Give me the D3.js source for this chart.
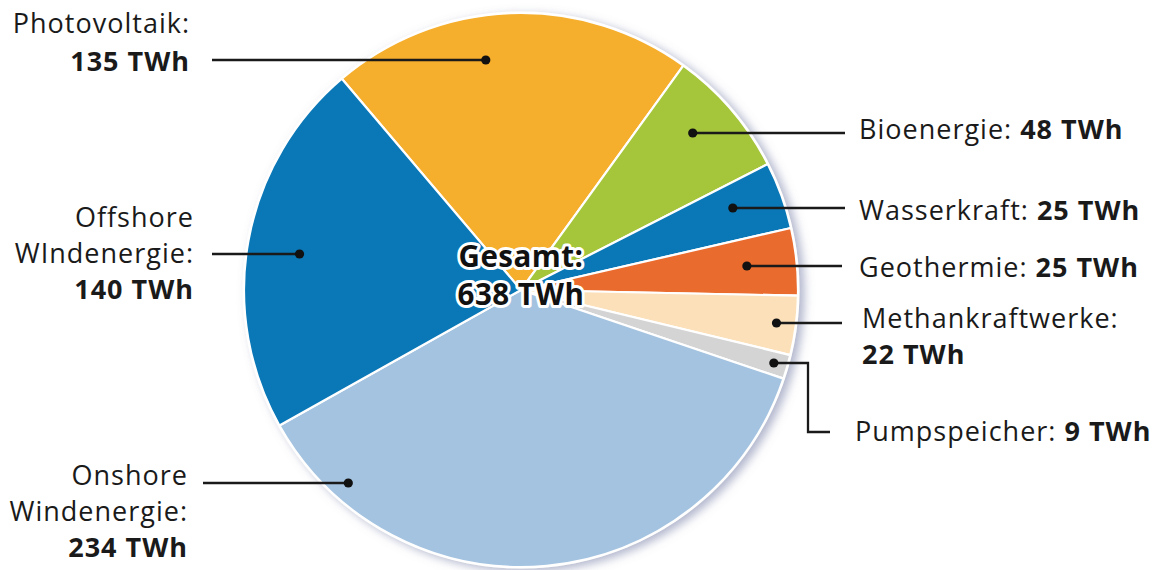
<!DOCTYPE html>
<html>
<head>
<meta charset="utf-8">
<script src="https://cdn.jsdelivr.net/npm/d3@7"></script>
<style>
  html, body { margin: 0; padding: 0; background: #fff; }
  svg { display: block; }
  text { font-family: "Open Sans", "DejaVu Sans", sans-serif; fill: #1a1a1a; }
</style>
</head>
<body>
<svg id="chart" width="1157" height="570"></svg>
<script>
// Stromerzeugung nach Quelle (TWh)
const categories = ["Photovoltaik", "Bioenergie", "Wasserkraft", "Geothermie",
                    "Methankraftwerke", "Pumpspeicher", "Onshore Windenergie", "Offshore Windenergie"];
const values = [135, 48, 25, 25, 22, 9, 234, 140];
const colors = ["#f6ae2d", "#a5c53b", "#0a77b7", "#ea6b2e", "#fbe0b9", "#d4d4d4", "#a4c3e0", "#0a77b7"];
// label lines: name part(s); the bold value follows
const labelLines = [
  ["Photovoltaik:"],
  ["Bioenergie:"],
  ["Wasserkraft:"],
  ["Geothermie:"],
  ["Methankraftwerke:"],
  ["Pumpspeicher:"],
  ["Onshore", "Windenergie:"],
  ["Offshore", "WIndenergie:"]
];
const unit = "TWh";
const totalLabel = "Gesamt:";

const svg = d3.select("#chart");
const cx = 521, cy = 290, R = 277;
const startAngle = -40.3 * Math.PI / 180;

const defs = svg.append("defs");
const shadow = defs.append("filter").attr("id", "shadow")
  .attr("x", "-10%").attr("y", "-10%").attr("width", "120%").attr("height", "120%");
shadow.append("feDropShadow").attr("dx", 5).attr("dy", 3).attr("stdDeviation", 5)
  .attr("flood-color", "#6f7aa3").attr("flood-opacity", 0.55);

const data = categories.map((c, i) => ({ name: c, value: values[i], color: colors[i], lines: labelLines[i] }));

const pie = d3.pie().value(d => d.value).sort(null)
  .startAngle(startAngle).endAngle(startAngle + 2 * Math.PI);
const arcs = pie(data);
const arc = d3.arc().innerRadius(0).outerRadius(R);

const g = svg.append("g").attr("transform", `translate(${cx},${cy})`);

// backdrop disc carrying the shadow and the white rim
g.append("circle").attr("r", R + 1.5).attr("fill", "#fff").attr("filter", "url(#shadow)");

g.selectAll("path.slice").data(arcs).join("path")
  .attr("class", "slice")
  .attr("d", arc)
  .attr("fill", d => d.data.color)
  .attr("stroke", "#fff")
  .attr("stroke-width", 2.2)
  .attr("stroke-linejoin", "round");

// leader layout: label side, height of the leader, radius fraction of the dot,
// outer end of the leader, text anchor x, baseline of the first text line, line step
const layout = [
  { side: -1, ly: 60,  rf: 0.84,  end: 212, tx: 190, ty: 33,  step: 38 },
  { side:  1, ly: 133, rf: 0.84,  end: 845, tx: 859, ty: 139, step: 36 },
  { side:  1, ly: 208, rf: 0.82,  end: 845, tx: 859, ty: 220, step: 36 },
  { side:  1, ly: 266, rf: 0.82,  end: 842, tx: 859, ty: 277, step: 36 },
  { side:  1, ly: 323, rf: 0.93,  end: 842, tx: 862, ty: 328, step: 36 },
  { side:  1, ly: 363, rf: 0.95,  end: 830, tx: 855, ty: 441, step: 36, elbow: { x: 808, y: 432 } },
  { side: -1, ly: 483, rf: 0.935, end: 203, tx: 188, ty: 485, step: 36 },
  { side: -1, ly: 254, rf: 0.81,  end: 212, tx: 194, ty: 227, step: 36 }
];

const leaders = svg.append("g");
const labels = svg.append("g").style("font-size", "27px").style("letter-spacing", "1px");

arcs.forEach((a, i) => {
  const L = layout[i];
  const r = L.rf * R;
  const dy = L.ly - cy;
  const dx = Math.sqrt(Math.max(0, r * r - dy * dy));
  const px = cx + L.side * dx;
  const py = L.ly;

  let pts;
  if (L.elbow) {
    pts = [[px, py], [L.elbow.x, py], [L.elbow.x, L.elbow.y], [L.end, L.elbow.y]];
  } else {
    pts = [[px, py], [L.end, py]];
  }
  leaders.append("path")
    .attr("d", d3.line()(pts))
    .attr("fill", "none").attr("stroke", "#1a1a1a").attr("stroke-width", 2.3);
  leaders.append("circle").attr("cx", px).attr("cy", py).attr("r", 4.6).attr("fill", "#111");

  const anchor = L.side < 0 ? "end" : "start";
  const d = a.data;
  const valText = `${d.value} ${unit}`;
  // short right-hand labels hold name and value on one line
  if (L.side > 0 && d.name !== "Methankraftwerke") {
    const t = labels.append("text").attr("x", L.tx).attr("y", L.ty).attr("text-anchor", anchor);
    t.append("tspan").text(d.lines[0] + " ");
    t.append("tspan").attr("font-weight", 700).text(valText);
  } else {
    d.lines.forEach((ln, k) => {
      labels.append("text").attr("x", L.tx).attr("y", L.ty + k * L.step)
        .attr("text-anchor", anchor).text(ln);
    });
    labels.append("text").attr("x", L.tx).attr("y", L.ty + d.lines.length * L.step)
      .attr("text-anchor", anchor).attr("font-weight", 700).text(valText);
  }
});

// total in the centre, haloed
const total = d3.sum(values);
const tg = svg.append("g").attr("text-anchor", "middle")
  .style("font-size", "29.5px").style("font-weight", 700).style("letter-spacing", "0.5px");
[[totalLabel, 267], [`${total} ${unit}`, 305]].forEach(([s, y]) => {
  tg.append("text").attr("x", cx).attr("y", y).text(s)
    .attr("stroke", "#fff").attr("stroke-width", 6).attr("stroke-linejoin", "round")
    .attr("paint-order", "stroke").style("fill", "#111");
});
</script>
</body>
</html>
